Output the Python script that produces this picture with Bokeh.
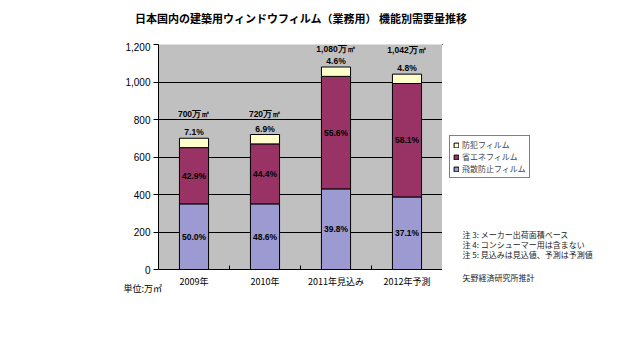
import math
from bokeh.plotting import figure
from bokeh.models import (ColumnDataSource, FactorRange, Range1d, FixedTicker, NumeralTickFormatter,
                          Legend, LegendItem, Title)
from bokeh.layouts import column, row
from bokeh.core.properties import value
from bokeh.embed import file_html
from bokeh.resources import INLINE

# ---- data ----
categories = ["2009年", "2010年", "2011年見込み", "2012年予測"]
scatter_film = [350, 350, 430, 387]   # 飛散防止フィルム
energy_film = [300, 320, 600, 605]    # 省エネフィルム
security_film = [50, 50, 50, 50]      # 防犯フィルム
series_names = ["飛散防止フィルム", "省エネフィルム", "防犯フィルム"]
y_ticks = [0, 200, 400, 600, 800, 1000, 1200]
title_text = "日本国内の建築用ウィンドウフィルム（業務用）  機能別需要量推移"
notes = ["注 3:  メーカー出荷面積ベース", "注 4:  コンシューマー用は含まない", "注 5:  見込みは見込値、予測は予測値"]
source_note = "矢野経済研究所推計"
unit_text = "単位:万㎡"

# ---- styles ----
series_colors = ["#9C9AD0", "#993366", "#FFFFCC"]
total_offsets = [-24, -21, -18, -24]
JP = "Noto Sans CJK JP"
LAT = "Liberation Sans"
TOP_H = 42

totals = [a + b + c for a, b, c in zip(scatter_film, energy_film, security_film)]


def make_title(text, align, offset, standoff, size, color, valign):
    kw = dict(text=text, align=align, offset=offset, text_font=JP, text_font_size=size,
              text_font_style="normal", text_color=color, vertical_align=valign)
    try:
        return Title(standoff=standoff, **kw)
    except Exception:
        return Title(standoff=0, **kw)


# ---------- title strip ----------
t = figure(width=640, height=TOP_H, x_range=Range1d(0, 640), y_range=Range1d(TOP_H, 0),
           min_border=0, x_axis_type=None, y_axis_type=None, output_backend="svg",
           toolbar_location=None, outline_line_color=None, background_fill_color="white")
t.grid.visible = False
t.text(x=[302], y=[17], text=[title_text], text_align="center", text_baseline="middle",
       text_font=value(JP), text_font_size="11px", text_font_style="bold", text_color="black")

# ---------- chart ----------
src = ColumnDataSource(dict(cat=categories, s1=scatter_film, s2=energy_film, s3=security_film))

p = figure(x_range=FactorRange(*categories, range_padding=0), y_range=Range1d(0, 1200),
           frame_width=284, frame_height=225,
           min_border_left=158, min_border_right=0, min_border_top=2, min_border_bottom=71,
           output_backend="svg", toolbar_location=None,
           background_fill_color="#C0C0C0", border_fill_color="white", outline_line_color=None)

p.vbar_stack(["s1", "s2", "s3"], x="cat", width=0.41, color=series_colors,
             line_color="black", line_width=1, source=src)

# small tick marks between categories
bounds = ColumnDataSource(dict(x=[[c, 0.5] for c in categories[:-1]], y=[0] * (len(categories) - 1)))
p.scatter(x="x", y="y", source=bounds, marker="dash", size=8, angle=math.pi / 2,
          line_color="black", line_width=1)

mx, my, mt = [], [], []
for i, c in enumerate(categories):
    base = 0
    for vals in (scatter_film, energy_film):
        v = vals[i]
        mx.append(c); my.append(base + v / 2); mt.append(f"{v / totals[i] * 100:.1f}%")
        base += v
lbl = dict(text_align="center", text_baseline="middle", text_font=value(LAT),
           text_font_size="8.5px", text_font_style="bold", text_color="black")
p.text(x=mx, y=my, text=mt, **lbl)
p.text(x=categories, y=totals, text=[f"{s / t_ * 100:.1f}%" for s, t_ in zip(security_film, totals)],
       y_offset=-6, **lbl)
p.text(x=categories, y=totals, text=[f"{t_:,}万㎡" for t_ in totals], y_offset=total_offsets, **lbl)

p.yaxis.ticker = FixedTicker(ticks=y_ticks)
p.yaxis.formatter = NumeralTickFormatter(format="0,0")
p.yaxis.major_label_text_font = LAT
p.yaxis.major_label_text_font_size = "10px"
p.yaxis.major_label_text_color = "black"
p.yaxis.major_tick_out = 5
p.yaxis.major_tick_in = 0
p.yaxis.minor_tick_line_color = None
p.yaxis.major_label_standoff = 3
p.yaxis.axis_line_color = "black"

p.xaxis.major_tick_line_color = None
p.xaxis.major_tick_out = 0
p.xaxis.major_tick_in = 0
p.xaxis.minor_tick_line_color = None
p.xaxis.major_label_text_font = JP
p.xaxis.major_label_text_font_size = "9px"
p.xaxis.major_label_text_color = "black"
p.xaxis.major_label_standoff = 5
p.xaxis.axis_line_color = "black"

p.xgrid.grid_line_color = None
p.ygrid.grid_line_color = "black"
p.ygrid.grid_line_width = 1

p.add_layout(make_title(unit_text, "left", -35, -18, "9px", "black", "top"), "below")

# ---------- right side: legend + notes (frame aligned with the chart frame) ----------
b = figure(frame_width=198, frame_height=225, x_range=Range1d(442, 640), y_range=Range1d(269, 44),
           min_border_left=0, min_border_right=0, min_border_top=2, min_border_bottom=71,
           x_axis_type=None, y_axis_type=None, output_backend="svg",
           toolbar_location=None, outline_line_color=None, background_fill_color="white",
           border_fill_color="white")
b.grid.visible = False
proxies = [b.vbar(x=[0], top=[0], width=1, color=c, line_color="black") for c in series_colors]
items = [LegendItem(label=series_names[k], renderers=[proxies[k]]) for k in (2, 1, 0)]
legend = Legend(items=items, location=(7, 91), orientation="vertical",
                label_text_font=JP, label_text_font_size="8px", label_height=8,
                glyph_height=6, glyph_width=6, spacing=1, padding=3, margin=0,
                label_standoff=3, border_line_color="black", border_line_width=1,
                background_fill_color="white", background_fill_alpha=1)
b.add_layout(legend)

note_y = [234, 244, 254]
b.text(x=[462] * len(notes), y=note_y, text=notes,
       text_align="left", text_baseline="middle", text_font=value(JP),
       text_font_size="8px", text_color="#222222")
b.add_layout(make_title(source_note, "left", 20, 0, "8px", "#222222", "bottom"), "below")

layout = column(t, row(p, b, spacing=0), spacing=0)
open("out.html", "w").write(file_html(layout, INLINE))
